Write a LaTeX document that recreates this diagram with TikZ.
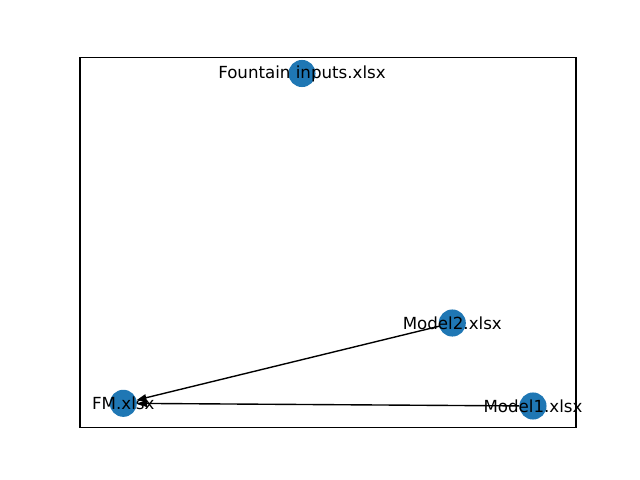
\documentclass[tikz,border=0pt]{standalone}
\usepackage{fontspec}
\setmainfont{DejaVu Sans}
\usetikzlibrary{arrows.meta}
\definecolor{nodeblue}{HTML}{1F77B4}
\begin{document}
\begin{tikzpicture}[x=0.72pt,y=-0.72pt,
  gnode/.style={circle,fill=nodeblue,draw=none,inner sep=0pt,minimum size=19.5pt},
  glabel/.style={inner sep=0pt,font=\fontsize{12pt}{14pt}\selectfont,anchor=center},
  gedge/.style={line width=1pt,-{Triangle[length=7pt,width=5pt]}}]
\useasboundingbox (0,0) rectangle (640,480);
\draw[line width=0.8pt] (80,57.6) rectangle (576,427.2);
\node[gnode] (fi) at (302,73.5) {};
\node[gnode] (m2) at (452.3,323) {};
\node[gnode] (fm) at (123.3,403.3) {};
\node[gnode] (m1) at (533,406) {};
\draw[gedge] (m2) -- (fm);
\draw[gedge] (m1) -- (fm);
\node[glabel] (fil) at (302,73.5) {Fountain inputs.xlsx};
\node[glabel] (m2l) at (452.3,323) {Model2.xlsx};
\node[glabel] (fml) at (123.3,403.3) {FM.xlsx};
\node[glabel] (m1l) at (533,406) {Model1.xlsx};
\end{tikzpicture}
\end{document}
